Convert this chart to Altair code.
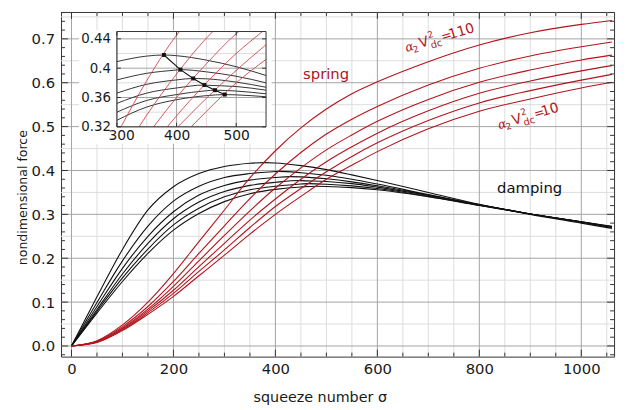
import altair as alt
import pandas as pd

# ---------------- data ----------------
sigma = [0, 50, 100, 150, 200, 250, 300, 350, 400, 450, 500, 550, 600, 700, 800, 900, 1000, 1060]
alpha_levels = [110, 90, 70, 50, 30, 10]

damping_110 = [0, 0.112, 0.220, 0.310, 0.363, 0.393, 0.409, 0.4165, 0.417, 0.411, 0.402, 0.390, 0.377, 0.350, 0.323, 0.300, 0.280, 0.268]
damping_90 = [0, 0.099, 0.194, 0.273, 0.330, 0.364, 0.384, 0.393, 0.3975, 0.395, 0.389, 0.380, 0.369, 0.345, 0.322, 0.301, 0.282, 0.270]
damping_70 = [0, 0.090, 0.177, 0.250, 0.306, 0.344, 0.366, 0.378, 0.384, 0.3855, 0.381, 0.374, 0.365, 0.344, 0.322, 0.301, 0.282, 0.271]
damping_50 = [0, 0.083, 0.164, 0.234, 0.290, 0.328, 0.352, 0.366, 0.373, 0.3768, 0.375, 0.370, 0.362, 0.343, 0.321, 0.301, 0.283, 0.271]
damping_30 = [0, 0.079, 0.155, 0.221, 0.276, 0.314, 0.340, 0.356, 0.364, 0.3692, 0.3688, 0.365, 0.359, 0.341, 0.321, 0.301, 0.283, 0.272]
damping_10 = [0, 0.075, 0.147, 0.211, 0.264, 0.302, 0.329, 0.347, 0.357, 0.3625, 0.3636, 0.361, 0.356, 0.340, 0.320, 0.301, 0.283, 0.273]

spring_110 = [0, 0.012, 0.048, 0.100, 0.165, 0.238, 0.310, 0.383, 0.445, 0.497, 0.540, 0.575, 0.602, 0.648, 0.686, 0.714, 0.733, 0.742]
spring_90 = [0, 0.011, 0.044, 0.090, 0.147, 0.211, 0.274, 0.336, 0.392, 0.441, 0.483, 0.517, 0.546, 0.595, 0.633, 0.661, 0.682, 0.693]
spring_70 = [0, 0.010, 0.041, 0.084, 0.136, 0.194, 0.252, 0.308, 0.360, 0.406, 0.447, 0.481, 0.512, 0.562, 0.601, 0.629, 0.652, 0.663]
spring_50 = [0, 0.009, 0.039, 0.080, 0.127, 0.181, 0.234, 0.287, 0.335, 0.380, 0.420, 0.454, 0.485, 0.536, 0.576, 0.604, 0.627, 0.639]
spring_30 = [0, 0.0085, 0.037, 0.076, 0.120, 0.170, 0.219, 0.270, 0.318, 0.359, 0.397, 0.432, 0.463, 0.514, 0.554, 0.582, 0.606, 0.619]
spring_10 = [0, 0.008, 0.035, 0.072, 0.113, 0.160, 0.207, 0.255, 0.300, 0.341, 0.380, 0.412, 0.443, 0.495, 0.535, 0.563, 0.588, 0.601]

peak_sigma = [378.8, 406.4, 427.9, 446.6, 464.3, 480.8]
peak_force = [0.418, 0.398, 0.386, 0.377, 0.370, 0.364]

x_labels = [0, 200, 400, 600, 800, 1000]
y_labels = [0.0, 0.1, 0.2, 0.3, 0.4, 0.5, 0.6, 0.7]
x_minor = [v for v in range(0, 1051, 50) if v % 200 != 0]
y_minor_grid = [0.05, 0.15, 0.25, 0.35, 0.45, 0.55, 0.65, 0.75]
y_minor_ticks = [round(-0.02 + 0.02 * i, 2) for i in range(40) if round((-0.02 + 0.02 * i) * 100) % 10 != 0]

inset_x_labels = [300, 400, 500]
inset_y_labels = [0.32, 0.36, 0.40, 0.44]
inset_x_minor = [350, 450]
inset_y_minor = [0.34, 0.38, 0.42]
inset_x_domain = [300, 550]
inset_y_domain = [0.32, 0.45]

curve_labels_sigma = [657, 839]
curve_labels_force = [0.670, 0.494]
curve_labels_num = ["110", "10"]

# ---------------- layout / style ----------------
W, H = 560, 349
XDOM = [-20.5, 1064.3]
YDOM = [-0.0243, 0.7613]
IX0, IX1 = 56.6, 207.6      # inset frame (pixels inside the plot area)
IY0, IY1 = 116.3, 19.8
RED = "#b3141c"
BLACK = "#111111"
GRID_MINOR = "#dcdcdc"
GRID_MAJOR = "#a3a3a3"
FRAME = "#333333"
FONT = "DejaVu Sans"

damping = dict(zip(alpha_levels, [damping_110, damping_90, damping_70, damping_50, damping_30, damping_10]))
spring = dict(zip(alpha_levels, [spring_110, spring_90, spring_70, spring_50, spring_30, spring_10]))

rows_b = []
for k, a in enumerate(alpha_levels):
    pts = list(zip(sigma, damping[a])) + [(peak_sigma[k], peak_force[k])]
    for s, f in sorted(pts):
        rows_b.append({"sigma": s, "F": f, "alpha": a})
black_df = pd.DataFrame(rows_b)

rows_r = []
for a in alpha_levels:
    for s, f in zip(sigma, spring[a]):
        rows_r.append({"sigma": s, "F": f, "alpha": a})
red_df = pd.DataFrame(rows_r)


def clip_polyline(xs, ys, x0, x1, y0, y1):
    out = []
    for i in range(len(xs) - 1):
        ax, ay, bx, by = xs[i], ys[i], xs[i + 1], ys[i + 1]
        dx, dy = bx - ax, by - ay
        t0, t1, ok = 0.0, 1.0, True
        for p, q in ((-dx, ax - x0), (dx, x1 - ax), (-dy, ay - y0), (dy, y1 - ay)):
            if p == 0:
                if q < 0:
                    ok = False
                    break
            else:
                r = q / p
                if p < 0:
                    t0 = max(t0, r)
                else:
                    t1 = min(t1, r)
        if not ok or t0 > t1:
            continue
        for t in (t0, t1):
            pt = (ax + t * dx, ay + t * dy)
            if not out or abs(out[-1][0] - pt[0]) > 1e-9:
                out.append(pt)
    return out


inset_black_df = black_df[(black_df.sigma >= 300) & (black_df.sigma <= 550)]
rows_ir = []
for a in alpha_levels:
    for s, f in clip_polyline(sigma, spring[a], 300, 550, 0.32, 0.45):
        rows_ir.append({"sigma": s, "F": f, "alpha": a})
inset_red_df = pd.DataFrame(rows_ir)
peaks_df = pd.DataFrame({"sigma": peak_sigma, "F": peak_force})

# ---------------- encodings ----------------
XAXIS = alt.Axis(values=x_labels, format="d", orient="bottom", title="squeeze number σ",
                 labelPadding=5, titleX=262, titleY=41, titleBaseline="middle", titleFontSize=14.5)
YAXIS = alt.Axis(values=y_labels, format=".1f", orient="left", title="nondimensional force",
                 labelPadding=6.5, titleX=-39, titleY=187.5, titleAngle=270,
                 titleBaseline="middle", titleFontSize=12.7)


def mx(field="sigma"):
    return alt.X(f"{field}:Q", scale=alt.Scale(domain=XDOM, nice=False, zero=False), axis=XAXIS)


def my(field="F"):
    return alt.Y(f"{field}:Q", scale=alt.Scale(domain=YDOM, nice=False, zero=False), axis=YAXIS)


IXAXIS = alt.Axis(values=inset_x_labels, format="d", orient="bottom", offset=-(H - IY0), title="",
                  labelPadding=2, labelFontSize=14, zindex=1, labelFlush=True, labelFlushOffset=9)
IYAXIS = alt.Axis(values=inset_y_labels, format="~g", orient="left", offset=-IX0, title="",
                  labelPadding=6.5, labelFontSize=13.5, zindex=1, labelFlush=False)


def ix(field="sigma"):
    return alt.X(f"{field}:Q", scale=alt.Scale(domain=inset_x_domain, range=[IX0, IX1], nice=False, zero=False),
                 axis=IXAXIS)


def iy(field="F"):
    return alt.Y(f"{field}:Q", scale=alt.Scale(domain=inset_y_domain, range=[IY0, IY1], nice=False, zero=False),
                 axis=IYAXIS)


def vdf(vals):
    return pd.DataFrame({"sigma": vals})


def hdf(vals):
    return pd.DataFrame({"F": vals})


# ---------------- main panel ----------------
main_layers = [
    alt.Chart(vdf(x_minor)).mark_rule(color=GRID_MINOR, strokeWidth=1).encode(x=mx(), y=alt.value(0), y2=alt.value(H)),
    alt.Chart(hdf(y_minor_grid)).mark_rule(color=GRID_MINOR, strokeWidth=1).encode(y=my(), x=alt.value(0), x2=alt.value(W)),
    alt.Chart(vdf(x_labels)).mark_rule(color=GRID_MAJOR, strokeWidth=1).encode(x=mx(), y=alt.value(0), y2=alt.value(H)),
    alt.Chart(hdf(y_labels)).mark_rule(color=GRID_MAJOR, strokeWidth=1).encode(y=my(), x=alt.value(0), x2=alt.value(W)),
    alt.Chart(black_df).mark_line(color=BLACK, strokeWidth=1.1, interpolate="monotone").encode(
        x=mx(), y=my(), detail="alpha:N"),
    alt.Chart(red_df).mark_line(color=RED, strokeWidth=1.1, interpolate="monotone").encode(
        x=mx(), y=my(), detail="alpha:N"),
    alt.Chart(pd.DataFrame({"sigma": [499.4], "F": [0.619], "t": ["spring"]})).mark_text(
        color=RED, fontSize=15, font=FONT, baseline="middle").encode(x=mx(), y=my(), text="t:N"),
    alt.Chart(pd.DataFrame({"sigma": [898.6], "F": [0.359], "t": ["damping"]})).mark_text(
        color=BLACK, fontSize=15, font=FONT, baseline="middle").encode(x=mx(), y=my(), text="t:N"),
]

lab_df = pd.DataFrame({"sigma": curve_labels_sigma, "F": curve_labels_force, "num": curve_labels_num})
ANG = 343.5
pieces = [
    ("α", 0, 0, 12.5, "DejaVu Serif", "italic"),
    ("2", 7, 3, 9, FONT, "normal"),
    ("V", 15, 0, 14, FONT, "normal"),
    ("2", 25.5, -7, 9, FONT, "normal"),
    ("dc", 25.5, 4, 10, FONT, "normal"),
    ("=", 38, 0, 13, FONT, "normal"),
]
for txt, dx, dy, fs, fnt, sty in pieces:
    main_layers.append(
        alt.Chart(lab_df).mark_text(text=txt, dx=dx, dy=dy, fontSize=fs, font=fnt, fontStyle=sty, color=RED,
                                    angle=ANG, align="left", baseline="alphabetic").encode(x=mx(), y=my()))
main_layers.append(
    alt.Chart(lab_df).mark_text(dx=46, fontSize=14, font=FONT, color=RED, angle=ANG, align="left",
                                baseline="alphabetic").encode(x=mx(), y=my(), text="num:N"))

# frame ticks (inward)
for vals, ln in ((x_labels, 7), (x_minor, 4)):
    main_layers.append(alt.Chart(vdf(vals)).mark_rule(color=FRAME).encode(x=mx(), y=alt.value(H), y2=alt.value(H - ln)))
    main_layers.append(alt.Chart(vdf(vals)).mark_rule(color=FRAME).encode(x=mx(), y=alt.value(0), y2=alt.value(ln)))
for vals, ln in ((y_labels, 7), (y_minor_ticks, 4)):
    main_layers.append(alt.Chart(hdf(vals)).mark_rule(color=FRAME).encode(y=my(), x=alt.value(0), x2=alt.value(ln)))
    main_layers.append(alt.Chart(hdf(vals)).mark_rule(color=FRAME).encode(y=my(), x=alt.value(W), x2=alt.value(W - ln)))

main = alt.layer(*main_layers)

# ---------------- inset ----------------
inset_layers = [
    alt.Chart(pd.DataFrame({"v": [0]})).mark_rect(fill="white", stroke=None).encode(
        x=alt.value(18.3), x2=alt.value(213.3), y=alt.value(18.5), y2=alt.value(133.5)),
    alt.Chart(vdf(inset_x_minor)).mark_rule(color=GRID_MINOR).encode(x=ix(), y=alt.value(IY0), y2=alt.value(IY1)),
    alt.Chart(hdf(inset_y_minor)).mark_rule(color=GRID_MINOR).encode(y=iy(), x=alt.value(IX0), x2=alt.value(IX1)),
    alt.Chart(vdf(inset_x_labels)).mark_rule(color=GRID_MAJOR).encode(x=ix(), y=alt.value(IY0), y2=alt.value(IY1)),
    alt.Chart(hdf(inset_y_labels)).mark_rule(color=GRID_MAJOR).encode(y=iy(), x=alt.value(IX0), x2=alt.value(IX1)),
    alt.Chart(inset_black_df).mark_line(color="#333333", strokeWidth=1, interpolate="monotone").encode(
        x=ix(), y=iy(), detail="alpha:N"),
    alt.Chart(inset_red_df).mark_line(color="#d0454b", strokeWidth=0.9, interpolate="monotone").encode(
        x=ix(), y=iy(), detail="alpha:N"),
    alt.Chart(peaks_df).mark_line(color=BLACK, strokeWidth=1.1).encode(x=ix(), y=iy()),
    alt.Chart(peaks_df).mark_point(color=BLACK, filled=True, shape="square", size=16, opacity=1).encode(x=ix(), y=iy()),
    alt.Chart(pd.DataFrame({"sigma": [inset_x_domain[0]], "sigma2": [inset_x_domain[1]],
                            "F": [inset_y_domain[0]], "F2": [inset_y_domain[1]]})).mark_rect(
        fill=None, stroke=FRAME, strokeWidth=1).encode(x=ix(), x2="sigma2:Q", y=iy(), y2="F2:Q"),
]
inset_layers.append(alt.Chart(vdf(inset_x_labels)).mark_rule(color=FRAME).encode(x=ix(), y=alt.value(IY0), y2=alt.value(IY0 - 4)))
inset_layers.append(alt.Chart(vdf(inset_x_labels)).mark_rule(color=FRAME).encode(x=ix(), y=alt.value(IY1), y2=alt.value(IY1 + 4)))
inset_layers.append(alt.Chart(hdf(inset_y_labels)).mark_rule(color=FRAME).encode(y=iy(), x=alt.value(IX0), x2=alt.value(IX0 + 4)))
inset_layers.append(alt.Chart(hdf(inset_y_labels)).mark_rule(color=FRAME).encode(y=iy(), x=alt.value(IX1), x2=alt.value(IX1 - 4)))

inset = alt.layer(*inset_layers)

chart = alt.layer(main, inset).resolve_scale(x="independent", y="independent").properties(
    width=W, height=H,
    padding={"left": 53.7, "top": 1.5, "right": 5, "bottom": 50},
    autosize=alt.AutoSizeParams(type="none"),
).configure_view(stroke=FRAME, strokeWidth=1).configure_axis(
    labelFont=FONT, titleFont=FONT, labelFontSize=15, labelColor="#1a1a1a", titleColor="#1a1a1a",
    titleFontWeight="normal", ticks=False, domain=False, grid=False,
)

chart.save("out.html", embed_options={"renderer": "svg", "actions": False})
